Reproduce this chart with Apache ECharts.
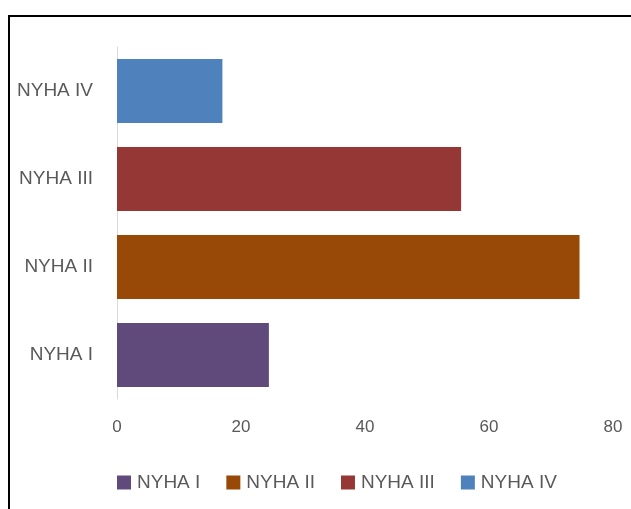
<!DOCTYPE html>
<html>
<head>
<meta charset="utf-8">
<script src="https://cdn.jsdelivr.net/npm/echarts@6/dist/echarts.min.js"></script>
<style>
html,body{margin:0;padding:0;background:#fff;overflow:hidden;}
#frame{position:absolute;left:8px;top:15px;width:700px;height:600px;border:2px solid #000;box-sizing:border-box;}
#chart{position:absolute;left:0;top:0;width:631px;height:509px;}
</style>
</head>
<body>
<div id="frame"></div>
<div id="chart"></div>
<script>
const categories = ['NYHA I', 'NYHA II', 'NYHA III', 'NYHA IV'];
const values = [24.5, 74.6, 55.5, 17];
const colors = ['#604a7b', '#984807', '#953735', '#4f81bd'];
const xTicks = [0, 20, 40, 60, 80];

const chart = echarts.init(document.getElementById('chart'), null, {renderer: 'canvas'});
const series = categories.map((name, i) => ({
  name: name,
  type: 'bar',
  stack: 'all',
  barCategoryGap: '27%',
  itemStyle: {color: colors[i]},
  data: categories.map((c, j) => (j === i ? values[i] : '-'))
}));
chart.setOption({
  animation: false,
  backgroundColor: 'transparent',
  grid: {left: 117, right: 18, top: 47, height: 352},
  xAxis: {
    type: 'value', min: xTicks[0], max: xTicks[xTicks.length - 1], interval: 20,
    axisLine: {show: false}, axisTick: {show: false}, splitLine: {show: false},
    axisLabel: {color: '#595959', fontSize: 17, fontFamily: 'Liberation Sans, Arial', margin: 20}
  },
  yAxis: {
    type: 'category', data: categories,
    axisLine: {show: true, lineStyle: {color: '#d9d9d9', width: 1}},
    axisTick: {show: false},
    axisLabel: {color: '#595959', fontSize: 19, fontFamily: 'Liberation Sans, Arial', margin: 24}
  },
  legend: {
    data: categories,
    left: 112, top: 468,
    itemWidth: 14, itemHeight: 14, itemGap: 26,
    icon: 'rect',
    textStyle: {color: '#595959', fontSize: 19, fontFamily: 'Liberation Sans, Arial', padding: [0, 0, 0, 1]}
  },
  series: series
});
</script>
</body>
</html>
